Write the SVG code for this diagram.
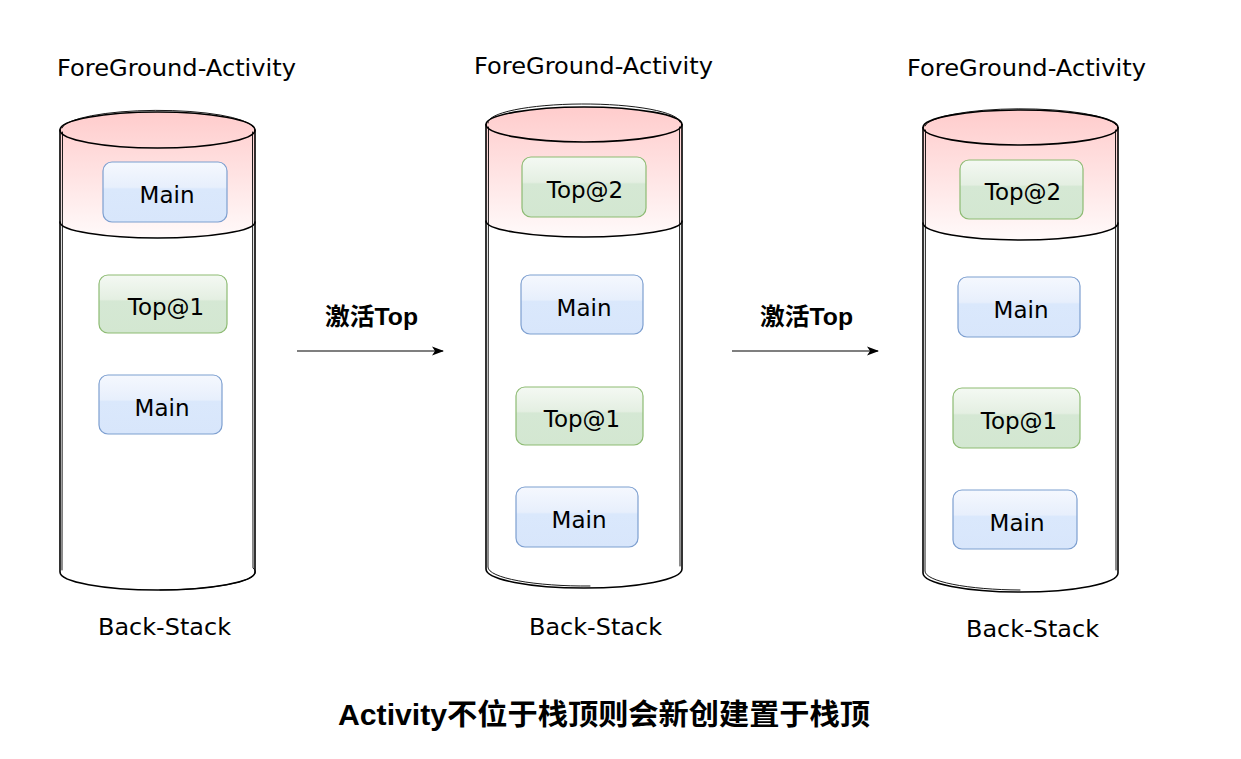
<svg xmlns="http://www.w3.org/2000/svg" width="1241" height="759" viewBox="0 0 1241 759">
<style>
.lbl{font-family:"DejaVu Sans","Noto Sans CJK SC",sans-serif;font-size:23px;fill:#000;text-anchor:middle}
.bold{font-family:"Liberation Sans","Noto Sans CJK SC",sans-serif;font-weight:bold;fill:#000;text-anchor:middle}
.out{fill:none;stroke:#000;stroke-width:1.6;stroke-linecap:round}
.out2{fill:none;stroke:#000;stroke-width:0.9;stroke-linecap:round}
.body{fill:#fff}
.pink{fill:url(#pinkG)}
.blue{fill:url(#blueG);stroke:#7d9fd0;stroke-width:1.2}
.green{fill:url(#greenG);stroke:#8dbb73;stroke-width:1.2}
.conn{stroke:#000;stroke-width:1.2;fill:none}
</style>
<defs>
<linearGradient id="pinkG" x1="0" y1="0" x2="0" y2="1">
<stop offset="0" stop-color="#ffcccc"/>
<stop offset="1" stop-color="#fffafa"/>
</linearGradient>
<linearGradient id="blueG" x1="0" y1="0" x2="0" y2="1">
<stop offset="0" stop-color="#f5f8fe"/>
<stop offset="0.42" stop-color="#e7effc"/>
<stop offset="0.45" stop-color="#dae8fc"/>
<stop offset="1" stop-color="#d8e6fb"/>
</linearGradient>
<linearGradient id="greenG" x1="0" y1="0" x2="0" y2="1">
<stop offset="0" stop-color="#f4f9f3"/>
<stop offset="0.42" stop-color="#e4efe2"/>
<stop offset="0.45" stop-color="#d5e8d4"/>
<stop offset="1" stop-color="#d3e7d1"/>
</linearGradient>
<marker id="arr" viewBox="0 0 12 10" refX="11" refY="5" markerWidth="12" markerHeight="10" markerUnits="userSpaceOnUse" orient="auto">
<path d="M0,0.5 L12,5 L0,9.5 L3,5 Z" fill="#000"/>
</marker>
</defs>
<rect width="1241" height="759" fill="#fff"/>

<!-- Cylinder 1 -->
<g id="stack1">
<path class="body" d="M60,130 L60,572 A97.5,18 0 0 0 255,572 L255,130 Z"/>
<path class="pink" d="M60,130 A97.5,18 0 0 1 255,130 L255,222 A97.5,16 0 0 1 60,222 Z"/>
<ellipse cx="157.5" cy="130" rx="97.5" ry="18" class="out"/>
<path class="out2" d="M62,128 A96,19 0 0 1 253,127"/>
<path class="out" d="M60,222 A97.5,16 0 0 0 255,222"/>
<path class="out" d="M60,130 L60,572 A97.5,18 0 0 0 255,572 L255,130"/>
<path class="out2" d="M62.5,132 L62,570 M252.5,132 L253,568 A97,18 0 0 1 160,590"/>
</g>
<g id="n1a"><rect x="103" y="162" width="124" height="60" rx="9" class="blue"/><text x="167" y="203" class="lbl">Main</text></g>
<g id="n1b"><rect x="99" y="275" width="128" height="58" rx="9" class="green"/><text x="166" y="315" class="lbl">Top@1</text></g>
<g id="n1c"><rect x="99" y="375" width="123" height="59" rx="9" class="blue"/><text x="162" y="416" class="lbl">Main</text></g>

<!-- Cylinder 2 -->
<g id="stack2">
<path class="body" d="M486,124.5 L486,569 A98,19 0 0 0 682,569 L682,124.5 Z"/>
<path class="pink" d="M486,124.5 A98,17.5 0 0 1 682,124.5 L682,221 A98,16 0 0 1 486,221 Z"/>
<ellipse cx="584" cy="124.5" rx="98" ry="17.5" class="out"/>
<path class="out2" d="M488,123 A96,18.5 0 0 1 680,122"/>
<path class="out" d="M486,221 A98,16 0 0 0 682,221"/>
<path class="out" d="M486,124.5 L486,569 A98,19 0 0 0 682,569 L682,124.5"/>
<path class="out2" d="M488.5,127 L488,567 A97,19 0 0 0 590,586 M679.5,127 L680,566"/>
</g>
<g id="n2a"><rect x="522" y="157" width="124" height="60" rx="9" class="green"/><text x="585" y="198" class="lbl">Top@2</text></g>
<g id="n2b"><rect x="521" y="275" width="122" height="59" rx="9" class="blue"/><text x="584" y="316" class="lbl">Main</text></g>
<g id="n2c"><rect x="516" y="387" width="127" height="58" rx="9" class="green"/><text x="582" y="427" class="lbl">Top@1</text></g>
<g id="n2d"><rect x="516" y="487" width="122" height="60" rx="9" class="blue"/><text x="579" y="528" class="lbl">Main</text></g>

<!-- Cylinder 3 -->
<g id="stack3">
<path class="body" d="M923,127.5 L923,573 A97.5,19 0 0 0 1118,573 L1118,127.5 Z"/>
<path class="pink" d="M923,127.5 A97.5,17.5 0 0 1 1118,127.5 L1118,223 A97.5,17 0 0 1 923,223 Z"/>
<ellipse cx="1020.5" cy="127.5" rx="97.5" ry="17.5" class="out"/>
<path class="out2" d="M925,126 A96,18.5 0 0 1 1116,125"/>
<path class="out" d="M923,223 A97.5,17 0 0 0 1118,223"/>
<path class="out" d="M923,127.5 L923,573 A97.5,19 0 0 0 1118,573 L1118,127.5"/>
<path class="out2" d="M925.5,130 L925,571 A97,19 0 0 0 1020,590 M1115.5,130 L1116,570"/>
</g>
<g id="n3a"><rect x="960" y="160" width="123" height="59" rx="9" class="green"/><text x="1023" y="200" class="lbl">Top@2</text></g>
<g id="n3b"><rect x="958" y="277" width="122" height="60" rx="9" class="blue"/><text x="1021" y="318" class="lbl">Main</text></g>
<g id="n3c"><rect x="953" y="388" width="127" height="60" rx="9" class="green"/><text x="1019" y="429" class="lbl">Top@1</text></g>
<g id="n3d"><rect x="953" y="490" width="124" height="59" rx="9" class="blue"/><text x="1017" y="531" class="lbl">Main</text></g>

<!-- labels -->
<g id="labels">
<text x="176.5" y="76" class="lbl" textLength="239" lengthAdjust="spacingAndGlyphs">ForeGround-Activity</text>
<text x="593.5" y="74" class="lbl" textLength="239" lengthAdjust="spacingAndGlyphs">ForeGround-Activity</text>
<text x="1026.5" y="76" class="lbl" textLength="239" lengthAdjust="spacingAndGlyphs">ForeGround-Activity</text>
<text x="164.5" y="635" class="lbl" textLength="133" lengthAdjust="spacingAndGlyphs">Back-Stack</text>
<text x="595.5" y="635" class="lbl" textLength="133" lengthAdjust="spacingAndGlyphs">Back-Stack</text>
<text x="1032.5" y="637" class="lbl" textLength="133" lengthAdjust="spacingAndGlyphs">Back-Stack</text>
<text x="371.5" y="325" class="bold" font-size="24" textLength="93" lengthAdjust="spacingAndGlyphs">激活Top</text>
<text x="806.5" y="325" class="bold" font-size="24" textLength="93" lengthAdjust="spacingAndGlyphs">激活Top</text>
<text x="604" y="725" class="bold" font-size="29" textLength="532" lengthAdjust="spacingAndGlyphs">Activity不位于栈顶则会新创建置于栈顶</text>
</g>

<!-- connectors -->
<g id="connectors">
<line x1="297" y1="351" x2="443" y2="351" class="conn" marker-end="url(#arr)"/>
<line x1="732" y1="351" x2="878" y2="351" class="conn" marker-end="url(#arr)"/>
</g>
</svg>
